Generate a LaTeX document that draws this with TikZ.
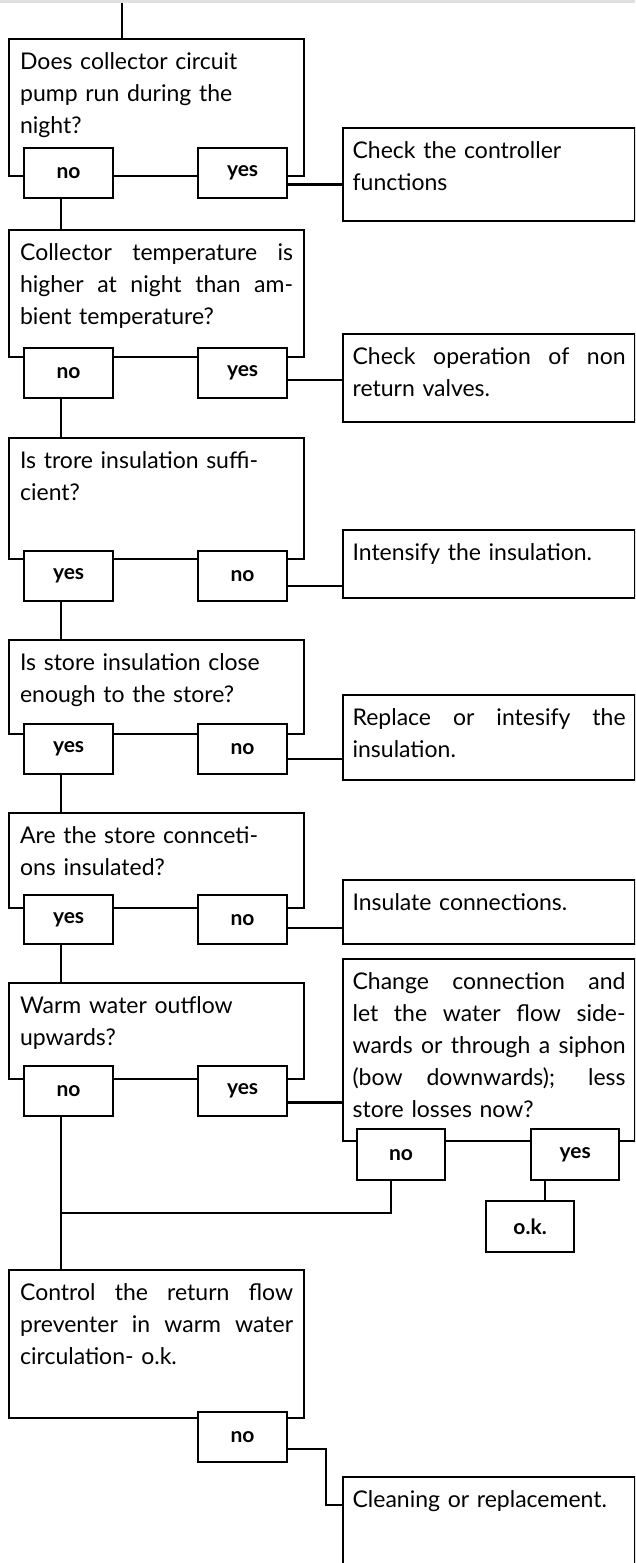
\documentclass[tikz,border=0pt]{standalone}
\usepackage{fontspec}
\setmainfont{Lato}

\newcommand{\jl}[1]{{\spaceskip=0pt\xspaceskip=0pt\makebox[273pt][s]{#1}}}

\begin{document}
\begin{tikzpicture}[x=1pt, y=-1pt, line width=2.2pt,
    qbox/.style={draw, anchor=north west, inner xsep=11pt, inner ysep=0pt,
      text width=273pt, align=left, text height=30pt,
      font=\fontsize{23}{32}\selectfont},
    rbox/.style={qbox, inner xsep=9.5pt},
    ans/.style={draw, fill=white, anchor=north west, minimum width=89pt,
      minimum height=50pt, inner sep=0pt,
      font=\bfseries\fontsize{21}{22}\selectfont}]
    \useasboundingbox (0,0) rectangle (635,1563);
    \clip (0,0) rectangle (635,1563);
    \fill [black!12] (0,0) rectangle (635,3.5);

    \node [qbox, text depth=107pt] (q1) at (8,38)
      {Does collector circuit\\pump run during the\\night?};
    \node [ans] (q1no) at (23,147) {no};
    \node [ans] (q1yes) at (197,147) {yes};
    \node [rbox, text depth=63pt] (chk) at (342,127)
      {Check the controller\\functions};

    \node [qbox, text depth=97pt] (q2) at (8,229)
      {\jl{Collector temperature is}\\\jl{higher at night than am-}\\bient temperature?};
    \node [ans] (q2no) at (23,347) {no};
    \node [ans] (q2yes) at (197,347) {yes};
    \node [rbox, text depth=58pt] (valves) at (342,333)
      {\jl{Check operation of non}\\return valves.};

    \node [qbox, text depth=91pt] (q3) at (8,437)
      {Is trore insulation suffi-\\cient?};
    \node [ans] (q3yes) at (23,550) {yes};
    \node [ans] (q3no) at (197,550) {no};
    \node [rbox, text depth=38pt] (intens) at (342,529)
      {Intensify the insulation.};

    \node [qbox, text depth=64pt] (q4) at (8,639)
      {Is store insulation close\\enough to the store?};
    \node [ans] (q4yes) at (23,723) {yes};
    \node [ans] (q4no) at (197,723) {no};
    \node [rbox, text depth=55pt] (repl) at (342,694)
      {\jl{Replace or intesify the}\\insulation.};

    \node [qbox, text depth=65pt] (q5) at (8,812)
      {Are the store connceti-\\ons insulated?};
    \node [ans, minimum height=49pt] (q5yes) at (23,894) {yes};
    \node [ans, minimum height=49pt] (q5no) at (197,894) {no};
    \node [rbox, text depth=34pt] (insul) at (342,879)
      {Insulate connections.};

    \node [qbox, text depth=66pt] (q6) at (8,982)
      {Warm water outflow\\upwards?};
    \node [ans] (q6no) at (23,1065) {no};
    \node [ans] (q6yes) at (197,1065) {yes};
    \node [rbox, text depth=152pt] (chg) at (342,958)
      {\jl{Change connection and}\\\jl{let the water flow side-}\\\jl{wards or through a siphon}\\\jl{(bow downwards); less}\\store losses now?};
    \node [ans, minimum width=88pt, minimum height=51pt] (chgno) at (356,1128) {no};
    \node [ans, minimum width=88pt, minimum height=51pt] (chgyes) at (530,1128) {yes};
    \node [ans, minimum width=88pt, minimum height=51pt] (ok) at (485,1200) {o.k.};

    \node [qbox, text depth=118pt] (q7) at (8,1269)
      {\jl{Control the return flow}\\\jl{preventer in warm water}\\circulation- o.k.};
    \node [ans] (q7no) at (197,1411) {no};
    \node [rbox, text depth=80pt] (clean) at (342,1476)
      {Cleaning or replacement.};

    \coordinate (start) at (122,3);
    \coordinate (spine) at (61,0);
    \coordinate (nodrop) at (391,0);
    \coordinate (okdrop) at (545,0);
    \coordinate (merge) at (61,1213);
    \coordinate (clin) at (342,1505);

    \draw (start) -- (start |- q1.north);
    \draw (q1no.south -| spine) -- (q2.north -| spine);
    \draw (q2no.south -| spine) -- (q3.north -| spine);
    \draw (q3yes.south -| spine) -- (q4.north -| spine);
    \draw (q4yes.south -| spine) -- (q5.north -| spine);
    \draw (q5yes.south -| spine) -- (q6.north -| spine);
    \draw (q6no.south -| spine) -- (q7.north -| spine);
    \draw (chgno.south -| nodrop) |- (merge);
    \draw (chgyes.south -| okdrop) -- (ok.north -| okdrop);

    \draw (q1yes.-14) -- (q1yes.-14 -| chk.west);
    \draw (q2yes.-9) -- (q2yes.-9 -| valves.west);
    \draw (q3no.-12) -- (q3no.-12 -| intens.west);
    \draw (q4no.-12) -- (q4no.-12 -| repl.west);
    \draw (q5no.-10) -- (q5no.-10 -| insul.west);
    \draw (q6yes.-14) -- (q6yes.-14 -| chg.west);
    \draw (q7no.-15) -| ([xshift=-16pt]clin) -- (clin);
\end{tikzpicture}
\end{document}
